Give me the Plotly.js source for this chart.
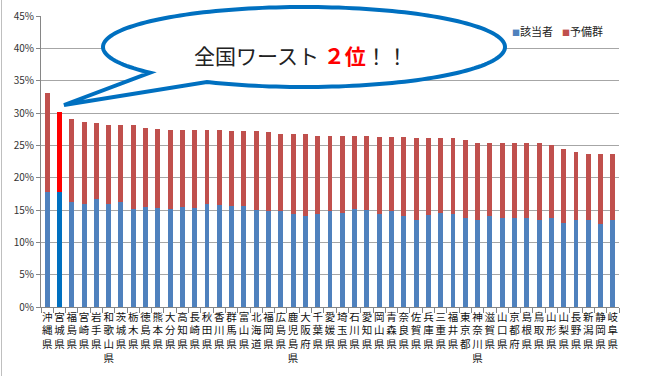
<!DOCTYPE html>
<html>
<head>
<meta charset="utf-8">
<script src="https://cdn.plot.ly/plotly-3.0.1.min.js"></script>
<style>
  html, body { margin: 0; padding: 0; background: #ffffff; }
  #chart { width: 654px; height: 376px; }
</style>
</head>
<body>
<div id="chart"></div>
<script>
// ---- data ----
const prefectures = [
  "沖縄県","宮城県","福島県","宮崎県","岩手県","和歌山県","茨城県","栃木県","徳島県","熊本県",
  "大分県","高知県","長崎県","秋田県","香川県","群馬県","富山県","北海道","福岡県","広島県",
  "鹿児島県","大阪府","千葉県","愛媛県","埼玉県","石川県","愛知県","岡山県","青森県","奈良県",
  "佐賀県","兵庫県","三重県","福井県","東京都","神奈川県","滋賀県","山口県","京都府","島根県",
  "鳥取県","山形県","山梨県","長野県","新潟県","静岡県","岐阜県"
];
// 該当者 (%)
const gaitousha = [
  17.8, 17.8, 16.3, 16.0, 16.7, 16.0, 16.2, 15.1, 15.4, 15.3,
  15.1, 15.4, 15.3, 16.0, 15.8, 15.6, 15.6, 15.0, 14.8, 14.8,
  14.4, 14.1, 14.4, 14.8, 14.6, 15.1, 15.0, 14.4, 14.8, 14.1,
  13.5, 14.2, 14.6, 14.4, 13.7, 13.4, 14.0, 13.8, 13.7, 13.8,
  13.5, 13.8, 13.0, 13.5, 13.4, 12.9, 13.4
];
// 予備群 (%)
const yobigun = [
  15.3, 12.3, 12.8, 12.6, 11.7, 12.2, 12.0, 13.0, 12.3, 12.2,
  12.3, 12.0, 12.1, 11.4, 11.6, 11.6, 11.6, 12.2, 12.2, 12.0,
  12.3, 12.6, 12.1, 11.7, 11.9, 11.4, 11.5, 11.9, 11.5, 12.2,
  12.6, 11.9, 11.5, 11.7, 12.1, 12.0, 11.4, 11.6, 11.6, 11.5,
  11.8, 11.3, 11.4, 10.5, 10.3, 10.8, 10.3
];
const seriesNames = ["該当者", "予備群"];
const yTickVals = [0, 5, 10, 15, 20, 25, 30, 35, 40, 45];
const highlightPref = "宮城県";
const calloutText = "全国ワースト ";
const calloutRank = "２位";
const calloutTail = "！！";

// ---- styles ----
const blue = "#4F81BD", red = "#C0504D";
const blueHi = "#0070C0", redHi = "#FF0000";
const jp = "'Noto Sans CJK JP', 'Noto Sans', sans-serif";

const verticalLabels = prefectures.map(s => Array.from(s).join("<br>"));
const blueColors = prefectures.map(p => p === highlightPref ? blueHi : blue);
const redColors = prefectures.map(p => p === highlightPref ? redHi : red);

const traces = [
  { type: "bar", name: seriesNames[0], x: prefectures, y: gaitousha,
    marker: { color: blueColors, line: { width: 0 } }, hoverinfo: "skip" },
  { type: "bar", name: seriesNames[1], x: prefectures, y: yobigun,
    marker: { color: redColors, line: { width: 0 } }, hoverinfo: "skip" }
];

// ---- geometry helpers (pixel -> paper) ----
const W = 654, H = 376, L = 41, R = 35, T = 16, B = 69;
const PW = W - L - R, PH = H - T - B;
const px = p => (p - L) / PW;
const py = p => (H - B - p) / PH;

// speech bubble outline
const cx = 304, cy = 47, rx = 201, ry = 40;
const a0 = 140, a1 = 478.9, tip = [64, 105];
let path = "";
for (let a = a0; a <= a1 + 0.001; a += 2) {
  const t = Math.min(a, a1) * Math.PI / 180;
  const X = cx + rx * Math.cos(t), Y = cy + ry * Math.sin(t);
  path += (path ? " L" : "M") + px(X).toFixed(5) + "," + py(Y).toFixed(5);
}
{
  const t = a1 * Math.PI / 180;
  path += " L" + px(cx + rx * Math.cos(t)).toFixed(5) + "," + py(cy + ry * Math.sin(t)).toFixed(5);
}
path += " L" + px(tip[0]).toFixed(5) + "," + py(tip[1]).toFixed(5) + " Z";

const layout = {
  width: W, height: H,
  margin: { l: L, r: R, t: T, b: B, pad: 0 },
  paper_bgcolor: "#ffffff", plot_bgcolor: "#ffffff",
  barmode: "stack", bargap: 0.6,
  showlegend: false,
  font: { family: jp, color: "#222" },
  xaxis: {
    type: "category", tickmode: "array", tickvals: prefectures, ticktext: verticalLabels,
    tickangle: 0, ticks: "outside", ticklen: 5, tickcolor: "#868686", tickson: "boundaries",
    showline: true, linecolor: "#868686", linewidth: 1, showgrid: false, automargin: false,
    tickfont: { family: jp, size: 10.5, color: "#111" }, fixedrange: true
  },
  yaxis: {
    range: [0, 45], tickmode: "array", tickvals: yTickVals, ticktext: yTickVals.map(v => v + "%"),
    showgrid: true, gridcolor: "#A6A6A6", gridwidth: 1, zeroline: false,
    showline: true, linecolor: "#868686", linewidth: 1,
    ticks: "outside", ticklen: 4, tickcolor: "#868686", automargin: false,
    tickfont: { family: jp, size: 10, color: "#333" }, fixedrange: true
  },
  shapes: [
    { type: "line", xref: "paper", yref: "paper", x0: px(1.5), x1: px(1.5), y0: py(0), y1: py(376),
      line: { color: "#BFBFBF", width: 1 }, layer: "above" },
    { type: "path", xref: "paper", yref: "paper", path: path, fillcolor: "#ffffff",
      line: { color: "#0070C0", width: 4 }, layer: "above" }
  ],
  annotations: [
    { xref: "paper", yref: "paper", x: px(301), y: py(55), xanchor: "center", yanchor: "middle",
      showarrow: false, font: { family: jp, size: 21, color: "#222" },
      text: calloutText + "<span style='color:#FF0000'><b>" + calloutRank + "</b></span>" + calloutTail },
    { xref: "paper", yref: "paper", x: px(510), y: py(31), xanchor: "left", yanchor: "middle",
      showarrow: false, font: { family: jp, size: 11, color: "#222" },
      text: "<span style='color:" + blue + ";font-size:8px'>■</span>" + seriesNames[0] },
    { xref: "paper", yref: "paper", x: px(560), y: py(31), xanchor: "left", yanchor: "middle",
      showarrow: false, font: { family: jp, size: 11, color: "#222" },
      text: "<span style='color:" + red + ";font-size:8px'>■</span>" + seriesNames[1] }
  ]
};

Plotly.newPlot("chart", traces, layout, { staticPlot: true, displayModeBar: false });
</script>
</body>
</html>
